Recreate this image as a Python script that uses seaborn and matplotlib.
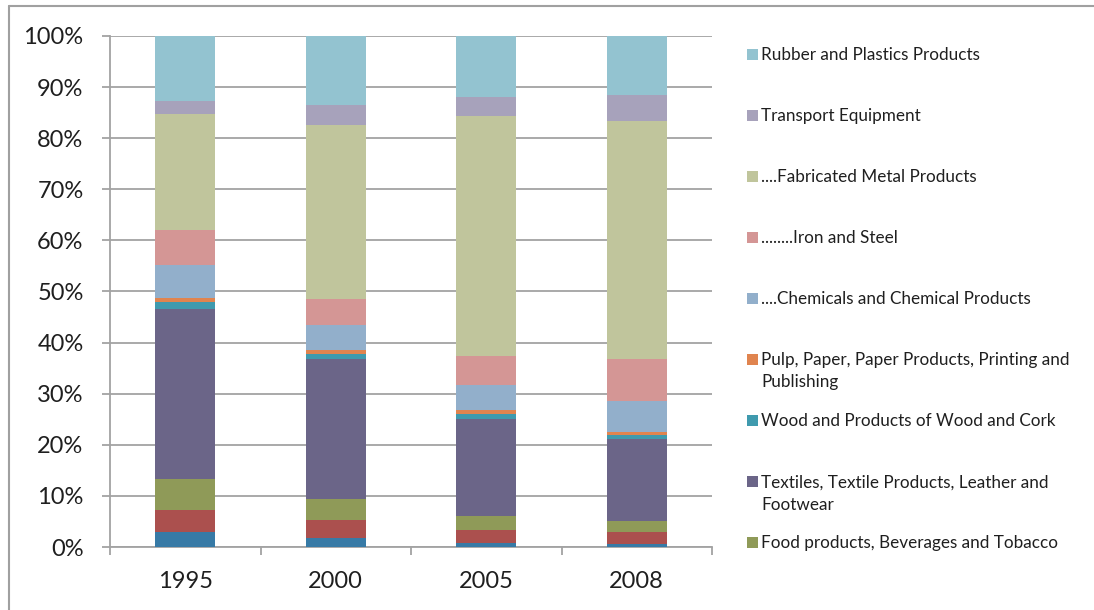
import matplotlib
matplotlib.use("Agg")
import matplotlib.pyplot as plt
from matplotlib.lines import Line2D
from matplotlib.patches import Rectangle
from matplotlib.ticker import PercentFormatter, FixedLocator, MultipleLocator, NullFormatter
import numpy as np
import pandas as pd
import seaborn as sns

# ---- data: share of each industry (%) per year, listed bottom of stack first ----
years = ["1995", "2000", "2005", "2008"]

primary_a = [3.0, 1.8, 0.8, 0.5]
primary_b = [4.2, 3.4, 2.6, 2.5]
food = [6.2, 4.2, 2.6, 2.1]
textiles = [33.2, 27.4, 19.0, 16.0]
wood = [1.3, 1.0, 1.0, 0.9]
pulp = [0.8, 0.7, 0.8, 0.6]
chemicals = [6.4, 5.0, 4.9, 6.0]
iron_steel = [6.9, 5.1, 5.7, 8.2]
fabricated = [22.7, 34.0, 46.9, 46.6]
transport = [2.6, 3.8, 3.7, 5.0]
rubber = [12.7, 13.6, 12.0, 11.6]

series_values = [primary_a, primary_b, food, textiles, wood, pulp,
                 chemicals, iron_steel, fabricated, transport, rubber]

# legend labels (None = series not listed in the legend)
series_labels = [
    None,
    None,
    "Food products, Beverages and Tobacco",
    "Textiles, Textile Products, Leather and\nFootwear",
    "Wood and Products of Wood and Cork",
    "Pulp, Paper, Paper Products, Printing and\nPublishing",
    "....Chemicals and Chemical Products",
    "........Iron and Steel",
    "....Fabricated Metal Products",
    "Transport Equipment",
    "Rubber and Plastics Products",
]

series_colors = ["#377AA6", "#AB504E", "#8F9A58", "#6B6588", "#3F9AAE", "#E0844F",
                 "#92AFCB", "#D49695", "#C0C59C", "#A7A2BB", "#93C3D0"]

# ---- style ----
sns.set_theme(style="white")
plt.rcParams["font.family"] = ["Lato", "DejaVu Sans"]
text_color = "#1f1f1f"
grid_color = "#A3A3A3"

W, H = 1094, 610
fig = plt.figure(figsize=(W / 100, H / 100), dpi=100)
fig.patch.set_facecolor("white")
ax = fig.add_axes([110 / W, 63 / H, 602 / W, 511 / H])

# 100% stacked columns: draw running totals from the top segment down
vals = np.array(series_values, dtype=float)
shares = vals / vals.sum(axis=0) * 100.0
tops = np.cumsum(shares, axis=0)

for k in range(len(series_values) - 1, -1, -1):
    df = pd.DataFrame({"year": years, "top": tops[k] / 100.0})
    sns.barplot(data=df, x="year", y="top", order=years, color=series_colors[k],
                saturation=1, width=0.4, ax=ax, zorder=3, linewidth=0)

# ---- axes ----
ax.set_xlim(-0.5, len(years) - 0.5)
ax.set_ylim(0, 1.0)
ax.yaxis.set_major_locator(MultipleLocator(0.1))
ax.yaxis.set_major_formatter(PercentFormatter(xmax=1.0, decimals=0))
ax.set_xlabel("")
ax.set_ylabel("")

ax.grid(axis="y", color=grid_color, linewidth=1.3, zorder=0)
ax.grid(axis="x", visible=False)
ax.set_axisbelow(True)

for side in ("top", "right"):
    ax.spines[side].set_visible(False)
for side in ("left", "bottom"):
    ax.spines[side].set_color(grid_color)
    ax.spines[side].set_linewidth(1.3)

ax.tick_params(axis="y", which="major", left=True, length=6, width=1.3,
               color=grid_color, pad=13, labelsize=17, labelcolor=text_color)
ax.tick_params(axis="x", which="major", bottom=False, length=0, pad=17,
               labelsize=17, labelcolor=text_color)
ax.xaxis.set_minor_locator(FixedLocator(np.arange(-0.5, len(years), 1.0)))
ax.xaxis.set_minor_formatter(NullFormatter())
ax.tick_params(axis="x", which="minor", bottom=True, length=6, width=1.3,
               color=grid_color)

# ---- legend, top entry first; wrapped labels continue below the first line ----
row0, row_step, line_step = 54, 61.1, 22.5
entries = [(lab, col) for lab, col in zip(series_labels, series_colors) if lab]
for i, (lab, col) in enumerate(reversed(entries)):
    yc = row0 + i * row_step
    fig.add_artist(Rectangle((747 / W, 1 - (yc + 5.5) / H), 10.5 / W, 11 / H,
                             transform=fig.transFigure, facecolor=col,
                             edgecolor="none"))
    for j, line in enumerate(lab.split("\n")):
        fig.text(761 / W, 1 - (yc + 5.5 + j * line_step) / H, line,
                 fontsize=12.3, color=text_color, va="baseline", ha="left")

# ---- outer chart frame ----
frame = dict(transform=fig.transFigure, color="#A0A0A0", linewidth=1.5)
fig.add_artist(Line2D([8.5 / W, 8.5 / W], [0, 1 - 5.5 / H], **frame))
fig.add_artist(Line2D([8.5 / W, 1], [1 - 5.5 / H, 1 - 5.5 / H], **frame))

fig.savefig("out.png", dpi=100, facecolor="white")
